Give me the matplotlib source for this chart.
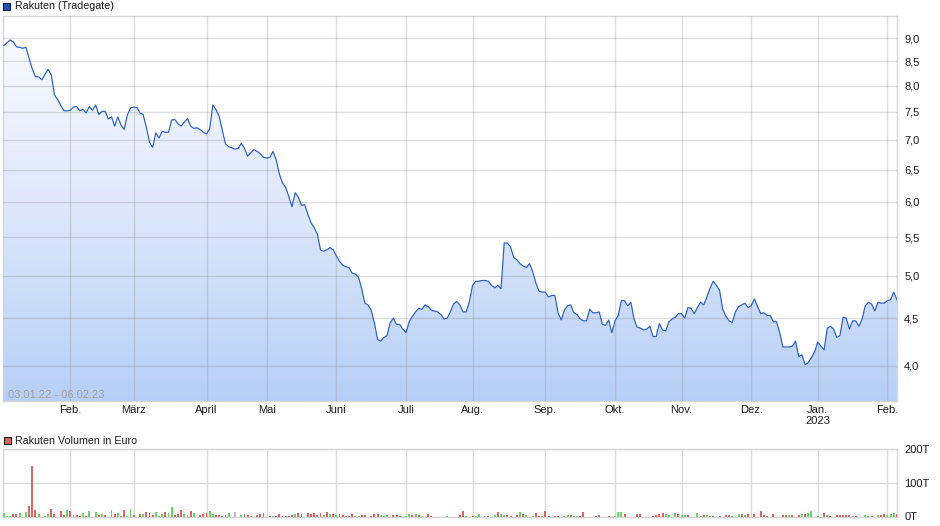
import numpy as np
import pandas as pd
import matplotlib
matplotlib.use("Agg")
import matplotlib.pyplot as plt
from matplotlib.patches import Rectangle
from matplotlib.colors import LinearSegmentedColormap
from matplotlib.ticker import FixedLocator, NullLocator

plt.rcParams['font.family'] = ['Liberation Sans', 'DejaVu Sans']

# ---------------- data ----------------
holidays = ['2022-04-15', '2022-04-18', '2022-12-26']
trading_days = pd.bdate_range('2022-01-03', '2023-02-06')
trading_days = trading_days[~trading_days.isin(pd.to_datetime(holidays))]

prices = [
    8.84, 8.90, 8.96, 8.92, 8.81, 8.80, 8.78, 8.80, 8.56, 8.34, 8.18, 8.18, 8.12, 8.23, 8.33, 8.22, 7.82, 7.73, 7.62, 7.52,
    7.52, 7.53, 7.59, 7.60, 7.52, 7.55, 7.48, 7.60, 7.53, 7.63, 7.45, 7.51, 7.51, 7.37, 7.41, 7.24, 7.41, 7.26, 7.18, 7.44,
    7.57, 7.59, 7.58, 7.48, 7.45, 7.22, 6.96, 6.87, 7.12, 7.03, 7.15, 7.13, 7.13, 7.35, 7.36, 7.28, 7.24, 7.31, 7.38, 7.24,
    7.20, 7.21, 7.18, 7.13, 7.10, 7.19, 7.63, 7.54, 7.42, 7.16, 6.93, 6.88, 6.86, 6.84, 6.85, 6.94, 6.85, 6.72, 6.78, 6.83,
    6.80, 6.76, 6.70, 6.69, 6.70, 6.80, 6.66, 6.43, 6.29, 6.22, 6.08, 5.93, 6.14, 6.07, 5.95, 5.96, 5.82, 5.70, 5.63, 5.54,
    5.33, 5.31, 5.33, 5.36, 5.33, 5.25, 5.18, 5.13, 5.11, 5.10, 5.03, 5.02, 4.98, 4.84, 4.67, 4.65, 4.59, 4.45, 4.27, 4.25,
    4.29, 4.31, 4.45, 4.50, 4.43, 4.43, 4.38, 4.34, 4.46, 4.52, 4.57, 4.61, 4.60, 4.65, 4.63, 4.59, 4.58, 4.57, 4.54, 4.49,
    4.50, 4.57, 4.66, 4.69, 4.65, 4.57, 4.57, 4.69, 4.88, 4.93, 4.93, 4.94, 4.94, 4.93, 4.88, 4.85, 4.88, 4.84, 5.42, 5.42,
    5.37, 5.23, 5.20, 5.15, 5.12, 5.10, 5.15, 5.05, 4.91, 4.81, 4.80, 4.80, 4.74, 4.76, 4.76, 4.56, 4.48, 4.59, 4.64, 4.65,
    4.56, 4.54, 4.49, 4.47, 4.47, 4.60, 4.56, 4.56, 4.57, 4.43, 4.42, 4.48, 4.34, 4.47, 4.53, 4.70, 4.70, 4.64, 4.68, 4.49,
    4.40, 4.39, 4.37, 4.38, 4.41, 4.30, 4.30, 4.44, 4.37, 4.36, 4.46, 4.49, 4.51, 4.55, 4.55, 4.50, 4.62, 4.61, 4.55, 4.62,
    4.68, 4.65, 4.74, 4.85, 4.93, 4.88, 4.82, 4.60, 4.52, 4.47, 4.45, 4.57, 4.63, 4.65, 4.67, 4.62, 4.64, 4.72, 4.63, 4.55,
    4.56, 4.53, 4.53, 4.46, 4.46, 4.34, 4.19, 4.19, 4.19, 4.20, 4.25, 4.09, 4.11, 4.01, 4.03, 4.08, 4.14, 4.24, 4.20, 4.16,
    4.39, 4.41, 4.38, 4.29, 4.31, 4.51, 4.50, 4.38, 4.47, 4.47, 4.41, 4.49, 4.64, 4.68, 4.66, 4.58, 4.68, 4.67, 4.67, 4.70,
    4.71, 4.80, 4.71,
]

# volume in thousand euro (T); direction: u = up, d = down, n = unchanged, x = no trade
volume_t = [
    10, 2, 2, 8, 8, 11, 0, 14, 32, 150, 20, 8, 0, 2, 8, 23, 8, 0, 17, 5,
    20, 17, 5, 5, 2, 11, 2, 17, 0, 14, 5, 8, 5, 0, 20, 8, 11, 2, 20, 2,
    23, 5, 0, 8, 8, 14, 11, 5, 14, 2, 8, 14, 11, 29, 5, 8, 20, 8, 5, 17,
    11, 0, 5, 8, 11, 17, 8, 5, 5, 2, 5, 11, 0, 14, 0, 5, 8, 5, 2, 0,
    5, 8, 11, 0, 2, 2, 2, 8, 2, 2, 2, 5, 8, 11, 8, 0, 11, 8, 11, 5,
    11, 5, 14, 8, 8, 5, 8, 5, 2, 2, 8, 2, 2, 5, 5, 0, 2, 8, 8, 5,
    2, 5, 0, 5, 5, 2, 0, 2, 8, 5, 8, 5, 2, 0, 8, 2, 0, 0, 0, 0,
    2, 0, 0, 0, 5, 17, 2, 0, 2, 2, 8, 0, 2, 2, 0, 5, 14, 8, 5, 5,
    2, 0, 5, 14, 8, 5, 0, 2, 11, 2, 2, 17, 2, 0, 2, 2, 0, 2, 5, 5,
    2, 2, 2, 14, 0, 0, 0, 2, 5, 0, 0, 2, 0, 2, 14, 12, 6, 0, 0, 0,
    6, 6, 0, 0, 0, 2, 3, 6, 9, 6, 3, 0, 9, 6, 3, 3, 3, 0, 0, 9,
    2, 3, 3, 2, 2, 0, 2, 0, 3, 3, 2, 0, 6, 6, 3, 6, 0, 6, 0, 15,
    3, 2, 0, 6, 0, 0, 3, 3, 3, 3, 0, 3, 6, 6, 9, 15, 0, 2, 0, 9,
    3, 2, 0, 3, 3, 3, 3, 3, 2, 2, 0, 0, 3, 2, 2, 0, 3, 3, 6, 3,
    6, 9, 6,
]
volume_dir = (
    "u u u d d u x u d d d u x u u d d x d d "
    "u d u d d u d u x u d u d x u d u d d u "
    "u d x d u d d d u u u d u u d d d u u d "
    "u x d d d u u d d d d u x n x u d d u x "
    "d d d x d u d d d d d d u d d x d d d d "
    "d u d u d u d d d d d u u d d x d d d u "
    "u u x d d u x u u d u d u x d d x x x x "
    "u x x x d d u x d u u x u d x u d u u d "
    "d x d u d u x u d d u d d x d d x u u d "
    "u u d d x x x d d x x d x u u u d x x x "
    "d d x x x d d d d u u x u d u u d x x u "
    "u d u u d x d x d d u x u d u d x d x d "
    "d d x d x x d d u d x d u d u u x u x d "
    "u d x d d d d d u d x x u u d x u d d u "
    "u u d"
).split()

month_labels = ["Feb.", "März", "April", "Mai", "Juni", "Juli", "Aug.", "Sep.",
                "Okt.", "Nov.", "Dez.", "Jan.\n2023", "Feb."]
price_ticks = [4.0, 4.5, 5.0, 5.5, 6.0, 6.5, 7.0, 7.5, 8.0, 8.5, 9.0]
price_tick_labels = ["4,0", "4,5", "5,0", "5,5", "6,0", "6,5", "7,0", "7,5", "8,0", "8,5", "9,0"]
vol_ticks = [0, 100, 200]
vol_tick_labels = ["0T", "100T", "200T"]
price_range = (3.665, 9.51)
date_range_label = "03.01.22 - 06.02.23"
title_price = "Rakuten (Tradegate)"
title_volume = "Rakuten Volumen in Euro"

# ---------------- layout ----------------
n = min(len(prices), len(trading_days))
x = np.arange(n)
months = trading_days[:n].to_period('M')
month_starts = [i for i in range(1, n) if months[i] != months[i - 1]]

W, H = 940, 526
fig = plt.figure(figsize=(W / 100, H / 100), dpi=100)
fig.patch.set_facecolor('white')


def rect(l, t, r, b):
    return [l / W, 1 - b / H, (r - l) / W, (b - t) / H]


ax = fig.add_axes(rect(2.7, 16, 897.3, 401))
axv = fig.add_axes(rect(2.7, 449.3, 897.3, 516.5))

spine_col = '#d6d6d6'
tick_col = '#1a1a1a'
xlim = (-0.35, n - 1 + 0.12)

# ---------------- price panel ----------------
ax.set_yscale('log')
ax.set_xlim(*xlim)
ax.set_ylim(*price_range)

fill = ax.fill_between(x, prices[:n], price_range[0], facecolor='none', edgecolor='none')
cmap = LinearSegmentedColormap.from_list('fillgrad', ['#b7cff6', '#dde8fb', '#fbfcff'])
grad = np.linspace(0, 1, 256).reshape(-1, 1)
img = ax.imshow(grad, extent=[0, 1, 0, 1], transform=ax.transAxes, origin='lower',
                cmap=cmap, aspect='auto', zorder=1, interpolation='bilinear')
img.set_clip_path(fill.get_paths()[0], ax.transData)
ax.set_xlim(*xlim)
ax.set_ylim(*price_range)

ax.plot(x, prices[:n], color='#2a5ec2', lw=0.85, zorder=4, solid_joinstyle='round')

ax.yaxis.tick_right()
ax.yaxis.set_major_locator(FixedLocator(price_ticks))
ax.yaxis.set_minor_locator(NullLocator())
ax.set_yticklabels(price_tick_labels)
ax.set_xticks(month_starts)
ax.set_xticklabels(month_labels[:len(month_starts)])
ax.tick_params(axis='y', length=0, pad=5, labelsize=8, colors=tick_col)
ax.tick_params(axis='x', length=0, pad=3, labelsize=8, colors=tick_col)
ax.grid(True, color=(0.5, 0.5, 0.5), alpha=0.25, lw=1.0, zorder=3)
ax.set_axisbelow(False)
for s in ax.spines.values():
    s.set_color(spine_col)
    s.set_linewidth(1.0)
for t in ax.get_xticklabels():
    t.set_linespacing(1.1)

fig.text(8 / W, 1 - 395 / H, date_range_label, color='#a0a0a0', fontsize=8,
         ha='left', va='center')

# ---------------- volume panel ----------------
col_map = {'u': '#66d466', 'd': '#dc6464', 'n': '#bdbdbd', 'x': '#ffffff'}
bar_colors = [col_map[d] for d in volume_dir[:n]]
axv.bar(x, volume_t[:n], width=0.62, color=bar_colors, linewidth=0, zorder=3)
axv.set_xlim(*xlim)
axv.set_ylim(0, 200)
axv.yaxis.tick_right()
axv.set_yticks(vol_ticks)
axv.set_yticklabels(vol_tick_labels)
axv.set_xticks(month_starts)
axv.set_xticklabels([])
axv.tick_params(axis='y', length=0, pad=5, labelsize=8, colors=tick_col)
axv.tick_params(axis='x', length=0)
axv.grid(True, color='#dcdcdc', lw=1.0, zorder=0)
axv.set_axisbelow(True)
for s in axv.spines.values():
    s.set_color(spine_col)
    s.set_linewidth(1.0)

# ---------------- legends ----------------
fig.patches.append(Rectangle((3 / W, 1 - 9.5 / H), 7 / W, 7 / H, transform=fig.transFigure,
                             facecolor='#1f55b5', edgecolor='#10204a', lw=0.8))
fig.text(15 / W, 1 - 6 / H, title_price, fontsize=7.7, color=tick_col, ha='left', va='center')
fig.patches.append(Rectangle((3.5 / W, 1 - 444 / H), 7 / W, 7 / H, transform=fig.transFigure,
                             facecolor='#dc6464', edgecolor='#202020', lw=0.8))
fig.text(15 / W, 1 - 440.5 / H, title_volume, fontsize=7.7, color=tick_col, ha='left', va='center')

fig.savefig('out.png', dpi=100)
